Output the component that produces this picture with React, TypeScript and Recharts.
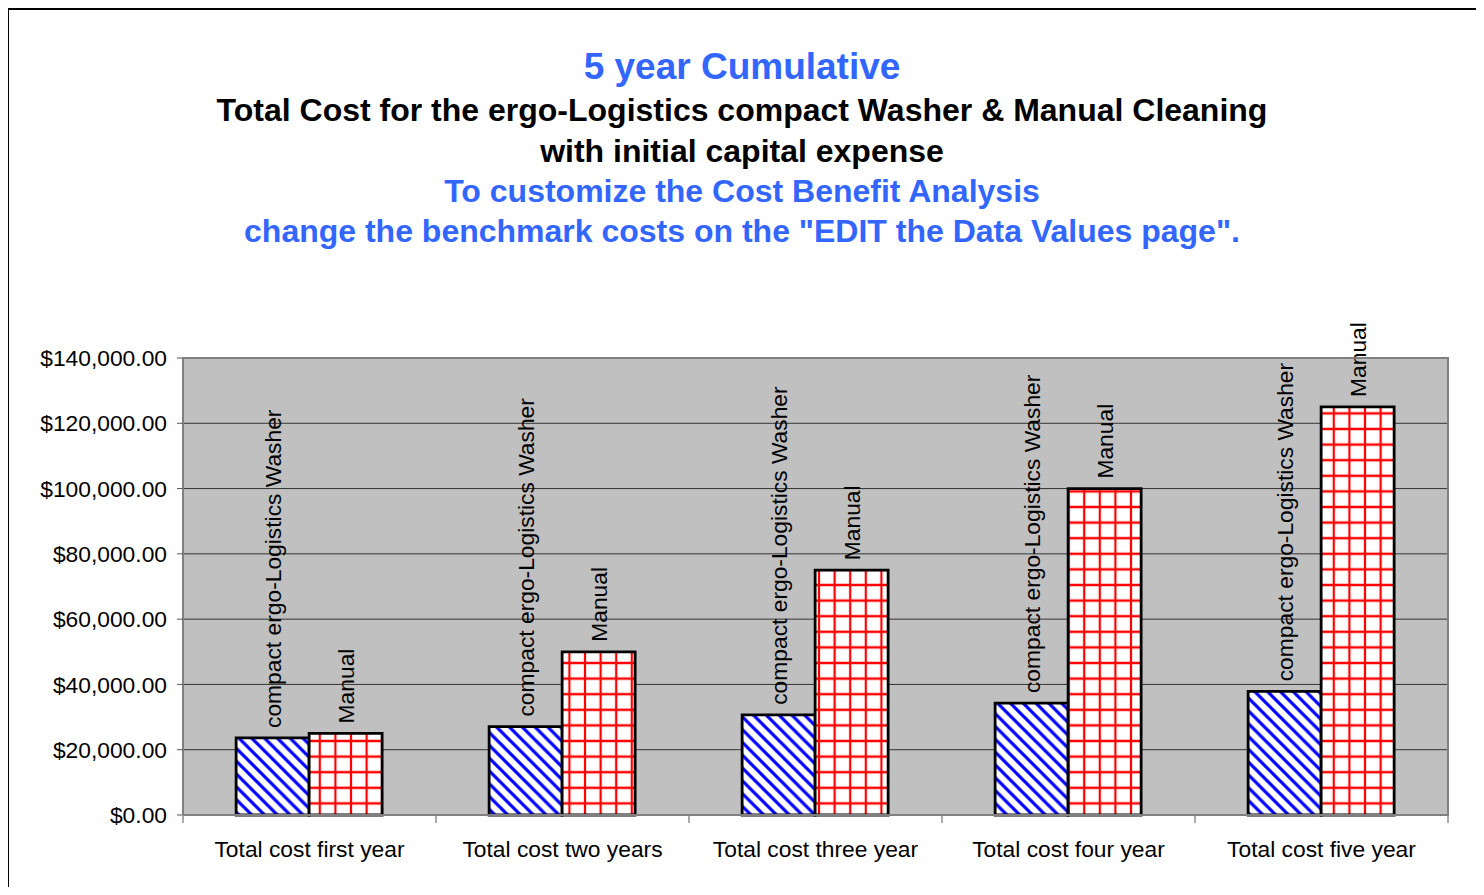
import { BarChart, Bar, XAxis, YAxis, CartesianGrid, LabelList } from 'recharts';

const categories = [
  'Total cost first year',
  'Total cost two years',
  'Total cost three year',
  'Total cost four year',
  'Total cost five year',
];
const washerCost = [23600, 27100, 30700, 34300, 37900];
const manualCost = [25000, 50000, 75000, 100000, 125000];
const yTicks = [0, 20000, 40000, 60000, 80000, 100000, 120000, 140000];

const titleLines = [
  { text: '5 year Cumulative', color: '#3366FF', size: 37, center: 67 },
  { text: 'Total Cost for the ergo-Logistics compact Washer & Manual Cleaning', color: '#000', size: 32, center: 110 },
  { text: 'with initial capital expense', color: '#000', size: 32, center: 151 },
  { text: 'To customize the Cost Benefit Analysis', color: '#3366FF', size: 32, center: 191 },
  { text: 'change the benchmark costs on the "EDIT the Data Values page".', color: '#3366FF', size: 32, center: 231 },
];

const chartData = categories.map((name, i) => ({
  name,
  washer: washerCost[i],
  manual: manualCost[i],
}));

const FONT = 'Arial, "Liberation Sans", Helvetica, sans-serif';
const TEXT_SIZE = 22.8;
const money = (v: number) =>
  '$' + v.toLocaleString('en-US', { minimumFractionDigits: 2, maximumFractionDigits: 2 });

const BAND = (1448 - 183) / categories.length;

const CategoryTick = (props: any) => {
  const { x, y, payload, index } = props;
  const axisY = y - 7;
  return (
    <g>
      <line x1={x - BAND / 2} x2={x - BAND / 2} y1={axisY} y2={axisY + 7} stroke="#555" strokeWidth={1} />
      {index === categories.length - 1 && (
        <line x1={x + BAND / 2} x2={x + BAND / 2} y1={axisY} y2={axisY + 7} stroke="#555" strokeWidth={1} />
      )}
      <text x={x} y={axisY + 33} textAnchor="middle" dominantBaseline="central" fontSize={TEXT_SIZE} fontFamily={FONT} fill="#000">
        {payload.value}
      </text>
    </g>
  );
};

const makeBarLabel = (text: string) => (props: any) => {
  const { x, y, width } = props;
  const cx = x + width / 2;
  const ty = y - 10;
  return (
    <text
      x={cx}
      y={ty}
      transform={`rotate(-90, ${cx}, ${ty})`}
      textAnchor="start"
      dominantBaseline="central"
      fontSize={TEXT_SIZE}
      fontFamily={FONT}
      fill="#000"
    >
      {text}
    </text>
  );
};

export default function App() {
  return (
    <div style={{ position: 'relative', width: 1484, height: 895, margin: -8, overflow: 'hidden', background: '#fff' }}>
      <div
        style={{
          position: 'absolute',
          left: 7,
          top: 8,
          width: 1472,
          height: 910,
          border: '2px solid #000',
          boxSizing: 'border-box',
        }}
      />
      {titleLines.map((l) => (
        <div
          key={l.text}
          style={{
            position: 'absolute',
            left: 0,
            width: 1484,
            top: l.center - 20,
            height: 40,
            lineHeight: '40px',
            textAlign: 'center',
            fontFamily: FONT,
            fontWeight: 'bold',
            fontSize: l.size,
            color: l.color,
            whiteSpace: 'nowrap',
          }}
        >
          {l.text}
        </div>
      ))}
      <div style={{ position: 'absolute', left: 0, top: 0 }}>
        <BarChart
          width={1484}
          height={895}
          data={chartData}
          margin={{ top: 358, right: 36, bottom: 30, left: 13 }}
          barCategoryGap="21%"
          barGap={0}
        >
          <defs>
            <pattern id="washerHatch" patternUnits="userSpaceOnUse" width={12.8} height={12.8}>
              <rect width={12.8} height={12.8} fill="#fff" />
              <path d="M0,0 l12.8,12.8 M-2,10.8 l4,4 M10.8,-2 l4,4" stroke="#0000FF" strokeWidth={3.2} />
            </pattern>
            <pattern id="manualGrid" patternUnits="userSpaceOnUse" width={15.6} height={15.6}>
              <rect width={15.6} height={15.6} fill="#fff" />
              <path d="M7.8,0 V15.6 M0,7.8 H15.6" stroke="#FF0000" strokeWidth={2.2} />
            </pattern>
          </defs>
          <CartesianGrid vertical={false} fill="#C0C0C0" stroke="#333" strokeWidth={1} />
          <XAxis
            dataKey="name"
            height={50}
            axisLine={{ stroke: '#808080', strokeWidth: 2 }}
            tickLine={false}
            tick={<CategoryTick />}
            interval={0}
          />
          <YAxis
            width={170}
            domain={[0, 140000]}
            ticks={yTicks}
            tickFormatter={money}
            axisLine={{ stroke: '#808080', strokeWidth: 2 }}
            tickLine={{ stroke: '#555' }}
            tickSize={6}
            tickMargin={10}
            tick={{ fontSize: TEXT_SIZE, fontFamily: FONT, fill: '#000' }}
          />
          <Bar dataKey="washer" fill="url(#washerHatch)" stroke="#000" strokeWidth={2.8} isAnimationActive={false}>
            <LabelList dataKey="washer" content={makeBarLabel('compact ergo-Logistics Washer')} />
          </Bar>
          <Bar dataKey="manual" fill="url(#manualGrid)" stroke="#000" strokeWidth={2.8} isAnimationActive={false}>
            <LabelList dataKey="manual" content={makeBarLabel('Manual')} />
          </Bar>
        </BarChart>
      </div>
      <div
        style={{
          position: 'absolute',
          left: 183,
          top: 357,
          width: 1266,
          height: 459,
          borderTop: '2px solid #808080',
          borderRight: '2px solid #808080',
          boxSizing: 'border-box',
          pointerEvents: 'none',
        }}
      />
    </div>
  );
}
